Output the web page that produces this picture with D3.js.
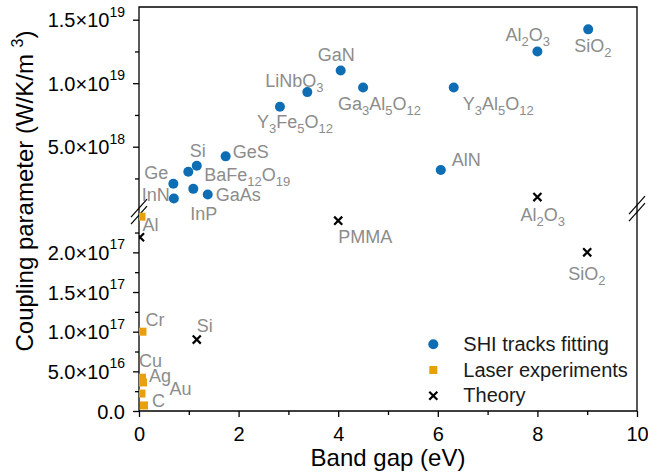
<!DOCTYPE html>
<html>
<head>
<meta charset="utf-8">
<script src="https://cdn.jsdelivr.net/npm/d3@7"></script>
<style>
  body { margin: 0; background: #fff; }
  text { font-family: Arial, "Liberation Sans", sans-serif; }
</style>
</head>
<body>
<svg id="chart" width="648" height="474"></svg>
<script>
// ---- data ----
var shiNames = ['InN', 'Ge', 'BaFe12O19', 'Si', 'InP', 'GaAs', 'GeS', 'Y3Fe5O12', 'LiNbO3', 'GaN', 'Ga3Al5O12', 'AlN', 'Y3Al5O12', 'Al2O3', 'SiO2']
var shiGap = [0.70, 0.69, 0.99, 1.16, 1.09, 1.38, 1.74, 2.83, 3.38, 4.05, 4.50, 6.06, 6.32, 8.00, 9.02]
var shiCoupling = [0.92e18, 2.08e18, 3.03e18, 3.50e18, 1.68e18, 1.24e18, 4.24e18, 8.14e18, 9.30e18, 1.10e19, 9.66e18, 3.16e18, 9.66e18, 1.25e19, 1.424e19]

var laserNames = ['Al', 'Cr', 'Cu', 'Ag', 'Au', 'C']
var laserGap = [0.05, 0.07, 0.06, 0.08, 0.05, 0.10]
var laserCoupling = [2.45e17, 1.0e17, 0.42e17, 0.36e17, 0.22e17, 0.07e17]

var theoryNames = ['', 'Si', 'PMMA', 'Al2O3', 'SiO2']   // Al point shares the laser "Al" label
var theoryGap = [0.02, 1.16, 4.0, 8.0, 9.0]
var theoryCoupling = [2.19e17, 0.90e17, 2.40e17, 1.03e18, 2.0e17]

var legendNames = ['SHI tracks fitting', 'Laser experiments', 'Theory']
var xTicks = [0, 2, 4, 6, 8, 10]
var xMinor = [1, 3, 5, 7, 9]
var lowTicks = [0, 5e16, 1e17, 1.5e17, 2e17]
var lowMinor = [2.5e16, 7.5e16, 1.25e17, 1.75e17, 2.25e17]
var highTicks = [5e18, 1e19, 1.5e19]
var highMinor = [2.5e18, 7.5e18, 1.25e19]

// label placement (px offsets from the marker)
var labelPos = {
  shi: {
    InN: [-32, 2], Ge: [-29, -5], BaFe12O19: [16, 9], Si: [-7, -9], InP: [-3, 31], GaAs: [8, 7],
    GeS: [7, 2], Y3Fe5O12: [-23, 21], LiNbO3: [-42, -5], GaN: [-23, -10], Ga3Al5O12: [-25, 22],
    AlN: [11, -4], Y3Al5O12: [9, 22], Al2O3: [-32, -10], SiO2: [-14, 23]
  },
  laser: { Al: [1, 14], Cr: [3, -6], Cu: [-3, -11], Ag: [6, 0], Au: [28, 1], C: [8, 2] },
  theory: { Si: [0, -8], PMMA: [0, 22], Al2O3: [-17, 24], SiO2: [-19, 28] }
}

var blue = '#0f6db4'
var orange = '#e8a00c'
var grey = '#8c8c8c'

var margin = {top: 7, right: 11, bottom: 63, left: 139}
var W = 648 - margin.left - margin.right
var H = 474 - margin.top - margin.bottom

var svg = d3.select('#chart')
var g = svg.append('g').attr('transform', 'translate(' + margin.left + ',' + margin.top + ')')

var x = d3.scaleLinear().domain([0, 10]).range([0, W])
// broken y axis: two linear pieces
var lowTop = H - 198.3
var yLow = d3.scaleLinear().domain([0, 2.5e17]).range([H, lowTop])
var yHigh = d3.scaleLinear().domain([0, 1.6e19]).range([lowTop - 2.5, 0])
var LIMIT = 2.5e17
function yPos(v){
  return v > LIMIT ? yHigh(v) : yLow(v)
}

function sciParts(v){
  if(v === 0) return ['0.0', '']
  var e = Math.floor(Math.log10(v))
  var m = v / Math.pow(10, e)
  return [m.toFixed(1) + '×10', String(e)]
}

// ---- axes ----
function styleAxis(sel){
  sel.select('.domain').remove()
  sel.selectAll('.tick line').attr('stroke', '#000').attr('stroke-width', 1.3)
}

var gx = g.append('g').attr('transform', 'translate(0,' + H + ')')
  .call(d3.axisBottom(x).tickValues(xTicks).tickSize(6).tickFormat(d3.format('d')))
gx.call(styleAxis)
gx.selectAll('.tick text').attr('y', 16).attr('font-size', 20).attr('fill', '#000')

g.append('g').attr('transform', 'translate(0,' + H + ')')
  .call(d3.axisBottom(x).tickValues(xMinor).tickSize(4).tickFormat(''))
  .call(styleAxis)

function yAxis(scale, major, minor){
  var ga = g.append('g').call(d3.axisLeft(scale).tickValues(major).tickSize(6).tickFormat(''))
  ga.call(styleAxis)
  ga.selectAll('.tick text')
    .attr('x', -14)
    .attr('font-size', 20)
    .attr('fill', '#000')
    .attr('dy', '0.35em')
    .each(function(d){
      var p = sciParts(d)
      var t = d3.select(this)
      t.append('tspan').text(p[0])
      if(p[1]) t.append('tspan').attr('font-size', 14).attr('dy', '-0.75em').text(p[1])
    })
  g.append('g').call(d3.axisLeft(scale).tickValues(minor).tickSize(4).tickFormat(''))
    .call(styleAxis)
}
yAxis(yLow, lowTicks, lowMinor)
yAxis(yHigh, highTicks, highMinor)

// frame
g.append('path')
  .attr('d', 'M0,' + H + 'V0H' + W + 'V' + H + 'H0')
  .attr('fill', 'none').attr('stroke', '#000').attr('stroke-width', 1.3)

// break marks
function breakMark(cx, cy){
  ;[-3.5, 3.5].forEach(function(o){
    g.append('line')
      .attr('x1', cx - 8).attr('y1', cy + o + 9)
      .attr('x2', cx + 8).attr('y2', cy + o - 9)
      .attr('stroke', '#000').attr('stroke-width', 1.2)
  })
}
breakMark(0, lowTop - 1)
breakMark(W, lowTop - 4)

// ---- markers ----
g.append('clipPath').attr('id', 'clip')
  .append('rect').attr('x', 0).attr('y', 0).attr('width', W).attr('height', H)
var marks = g.append('g').attr('clip-path', 'url(#clip)')

function rows(names, gap, val){
  return names.map(function(n, i){ return {name: n, x: gap[i], y: val[i]} })
}
var shiData = rows(shiNames, shiGap, shiCoupling)
var laserData = rows(laserNames, laserGap, laserCoupling)
var theoryData = rows(theoryNames, theoryGap, theoryCoupling)

marks.selectAll('.shi').data(shiData).enter().append('circle')
  .attr('class', 'shi')
  .attr('cx', function(d){ return x(d.x) })
  .attr('cy', function(d){ return yPos(d.y) })
  .attr('r', 5)
  .attr('fill', blue)

marks.selectAll('.laser').data(laserData).enter().append('rect')
  .attr('class', 'laser')
  .attr('x', function(d){ return x(d.x) - 4 })
  .attr('y', function(d){ return yPos(d.y) - 4 })
  .attr('width', 8).attr('height', 8)
  .attr('fill', orange)

var xSym = d3.symbol().type(d3.symbolX).size(44)
marks.selectAll('.theory').data(theoryData).enter().append('path')
  .attr('class', 'theory')
  .attr('transform', function(d){ return 'translate(' + x(d.x) + ',' + yPos(d.y) + ')' })
  .attr('d', xSym)
  .attr('fill', 'none').attr('stroke', '#000').attr('stroke-width', 2.2)

// ---- labels with chemical subscripts ----
function chemLabel(sel){
  sel.each(function(d){
    var t = d3.select(this)
    var parts = d.name.match(/\d+|\D+/g) || []
    var sub = false
    parts.forEach(function(p){
      var isNum = /\d/.test(p)
      var ts = t.append('tspan').text(p)
      if(isNum && !sub){ ts.attr('font-size', 13).attr('dy', 5); sub = true }
      else if(!isNum && sub){ ts.attr('dy', -5); sub = false }
      else if(isNum) ts.attr('font-size', 13)
    })
  })
}

function labels(data, key){
  g.selectAll('.lbl-' + key).data(data.filter(function(d){ return d.name && labelPos[key][d.name] }))
    .enter().append('text')
    .attr('class', 'lbl-' + key)
    .attr('x', function(d){ return x(d.x) + labelPos[key][d.name][0] })
    .attr('y', function(d){ return yPos(d.y) + labelPos[key][d.name][1] })
    .attr('font-size', 18)
    .attr('fill', grey)
    .call(chemLabel)
}
labels(shiData, 'shi')
labels(laserData, 'laser')
labels(theoryData, 'theory')

// ---- legend ----
var leg = g.append('g').attr('transform', 'translate(' + (433.3 - margin.left) + ',' + (344.3 - margin.top) + ')')
legendNames.forEach(function(n, i){
  var row = leg.append('g').attr('transform', 'translate(0,' + (i * 25.7) + ')')
  if(i === 0) row.append('circle').attr('r', 5).attr('fill', blue)
  if(i === 1) row.append('rect').attr('x', -4).attr('y', -4).attr('width', 8).attr('height', 8).attr('fill', orange)
  if(i === 2) row.append('path').attr('d', xSym).attr('fill', 'none').attr('stroke', '#000').attr('stroke-width', 2.2)
  row.append('text').attr('x', 30).attr('y', 6.5).attr('font-size', 20).attr('fill', '#1a1a1a').text(n)
})

// ---- axis titles ----
svg.append('text')
  .attr('x', margin.left + W / 2).attr('y', 466)
  .attr('text-anchor', 'middle').attr('font-size', 24).attr('fill', '#000')
  .text('Band gap (eV)')

var yt = svg.append('text')
  .attr('transform', 'translate(33,191) rotate(-90)')
  .attr('text-anchor', 'middle').attr('font-size', 24).attr('fill', '#000')
yt.append('tspan').text('Coupling parameter (W/K/m ')
yt.append('tspan').attr('font-size', 16).attr('dy', '-0.6em').text('3')
yt.append('tspan').attr('dy', '0.4em').text(')')
</script>
</body>
</html>
